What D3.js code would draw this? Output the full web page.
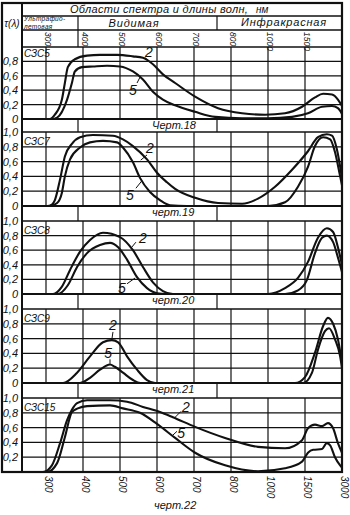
<!DOCTYPE html>
<html><head><meta charset="utf-8">
<script src="https://cdn.jsdelivr.net/npm/d3@7"></script>
<style>
html,body{margin:0;padding:0;background:#fff;}
svg{display:block;}
text{font-family:"Liberation Sans Narrow","Liberation Sans","DejaVu Sans",sans-serif;font-style:italic;fill:#111;}
</style></head><body>
<svg id="chart" width="350" height="515"></svg>
<script>
// Wavelength gridlines (nm); they are equally spaced along the axis
const wavelengths = [300, 400, 500, 600, 700, 800, 1000, 1500, 3000];
const headerTicks = [300, 400, 500, 600, 700, 800, 1000, 1500];
const gridValues = [0.2, 0.4, 0.6, 0.8];
const filters = ["СЗС5", "СЗС7", "СЗС8", "СЗС9", "СЗС15"];
const figures = ["Черт.18", "черт.19", "черт.20", "черт.21", "черт.22"];
const tickLabels = [
  [0.8, 0.6, 0.4, 0.2, 0],
  [1.0, 0.8, 0.6, 0.4, 0.2, 0],
  [1.0, 0.8, 0.6, 0.4, 0.2, 0],
  [1.0, 0.8, 0.6, 0.4, 0.2, 0],
  [1.0, 0.8, 0.6, 0.4, 0.2]
];

// Spectral transmission τ(λ): [wavelength nm, τ]; curve "2" and curve "5"
const szs5_2 = [[235,0],[310,0],[324,0.06],[343,0.27],[351,0.5],[359,0.72],[378,0.83],[411,0.88],[446,0.89],[492,0.89],[535,0.87],[562,0.85],[589,0.76],[616,0.62],[649,0.5],[703,0.31],[765,0.15],[860,0.08],[984,0.06],[1230,0.08],[1460,0.17],[1905,0.3],[2235,0.35],[2595,0.34],[2835,0.27],[3000,0.18]];
const szs5_5 = [[235,0],[316,0],[330,0.02],[357,0.27],[370,0.5],[378,0.66],[397,0.72],[427,0.73],[465,0.74],[500,0.73],[535,0.66],[562,0.55],[589,0.38],[616,0.27],[649,0.19],[703,0.1],[757,0.03],[860,0.01],[1000,0.01],[1325,0.03],[1620,0.08],[2190,0.17],[2595,0.18],[2835,0.15],[3000,0.07]];
const szs7_2 = [[235,0],[303,0],[316,0.02],[324,0.08],[338,0.36],[351,0.67],[370,0.84],[392,0.93],[427,0.96],[481,0.95],[508,0.9],[535,0.81],[573,0.63],[600,0.45],[627,0.32],[649,0.23],[703,0.11],[765,0.04],[860,0.03],[946,0.1],[1095,0.26],[1325,0.49],[1620,0.74],[2025,0.93],[2385,0.97],[2595,0.95],[2790,0.77],[3000,0.38]];
const szs7_5 = [[235,0],[311,0],[330,0.04],[343,0.18],[351,0.4],[365,0.63],[392,0.79],[419,0.86],[454,0.88],[492,0.86],[508,0.79],[535,0.59],[554,0.38],[581,0.19],[608,0.08],[635,0.01],[680,0],[1000,0],[1230,0.05],[1405,0.26],[1620,0.53],[1905,0.81],[2235,0.93],[2520,0.9],[2715,0.73],[2925,0.4],[3000,0.28]];
const szs8_2 = [[235,0],[319,0],[343,0.1],[365,0.33],[392,0.58],[419,0.74],[454,0.84],[500,0.78],[535,0.6],[562,0.37],[589,0.16],[616,0.04],[643,0],[1000,0],[1230,0.08],[1405,0.22],[1620,0.44],[2025,0.77],[2385,0.9],[2640,0.85],[2835,0.64],[3000,0.4]];
const szs8_5 = [[235,0],[332,0],[359,0.12],[384,0.37],[411,0.56],[446,0.67],[473,0.7],[495,0.64],[519,0.47],[546,0.23],[573,0.08],[600,0.01],[625,0],[1230,0],[1405,0.05],[1575,0.19],[1905,0.56],[2190,0.77],[2385,0.8],[2640,0.71],[2835,0.5],[3000,0.3]];
const szs9_2 = [[235,0],[346,0],[384,0.14],[419,0.36],[454,0.55],[478,0.58],[495,0.55],[519,0.36],[546,0.18],[573,0.04],[595,0],[1365,0],[1500,0.08],[1905,0.41],[2235,0.77],[2430,0.88],[2640,0.8],[2835,0.59],[3000,0.27]];
const szs9_5 = [[235,0],[392,0],[419,0.07],[446,0.18],[473,0.25],[486,0.22],[508,0.14],[535,0.04],[555,0],[1475,0],[1785,0.14],[2025,0.45],[2310,0.7],[2475,0.74],[2715,0.59],[2925,0.36],[3000,0.2]];
const szs15_2 = [[235,0],[292,0],[316,0.09],[338,0.39],[357,0.7],[370,0.84],[384,0.93],[411,0.97],[473,0.97],[519,0.95],[562,0.88],[608,0.81],[643,0.74],[703,0.61],[784,0.46],[946,0.34],[1230,0.32],[1460,0.43],[1620,0.59],[1905,0.64],[2190,0.62],[2430,0.66],[2640,0.59],[2835,0.39],[3000,0.26]];
const szs15_5 = [[235,0],[303,0],[330,0.12],[351,0.47],[370,0.81],[386,0.86],[411,0.89],[473,0.9],[508,0.86],[554,0.8],[600,0.65],[649,0.46],[703,0.26],[784,0.09],[946,0.01],[1230,0.05],[1460,0.14],[1620,0.26],[1830,0.3],[2190,0.31],[2385,0.39],[2520,0.36],[2715,0.2],[2925,0.09],[3000,0.06]];
const curves2 = [szs5_2, szs7_2, szs8_2, szs9_2, szs15_2];
const curves5 = [szs5_5, szs7_5, szs8_5, szs9_5, szs15_5];

// Curve numbers: text centre [nm, τ] and a leader [from nm, τ] -> [to nm, τ]
const labels2 = [
  {at:[578,0.93], from:[568,0.85], to:[581,0.79]},
  {at:[581,0.78], from:[573,0.69], to:[556,0.62]},
  {at:[562,0.77], from:[543,0.71], to:[530,0.63]},
  {at:[481,0.79], from:[481,0.69], to:[478,0.59]},
  {at:[678,0.88], from:[665,0.82], to:[649,0.74]}
];
const labels5 = [
  {at:[535,0.40], from:[546,0.50], to:[556,0.60]},
  {at:[527,0.15], from:[543,0.24], to:[559,0.34]},
  {at:[505,0.08], from:[519,0.14], to:[541,0.22]},
  {at:[468,0.40], from:[473,0.32], to:[473,0.26]},
  {at:[665,0.53], from:[654,0.55], to:[641,0.49]}
];

const svg = d3.select("#chart");
const INK = "#111";

// x: each wavelength gridline one equal step apart
const X300 = 46, STEP = 37;
const x = d3.scaleLinear().domain(wavelengths).range(wavelengths.map((d, i) => X300 + i * STEP));
const FRAME_L = 2, LEFT = 22, RIGHT = x(3000), TOP = 3;
const panelTop = [47, 132, 221, 309, 398];
const panelBase = [119, 206, 294, 383, 472];
const divA = 78, divB = 217;   // cell dividers in the header and caption strips

const fmt = v => v === 0 ? "0" : d3.format(".1f")(v).replace(".", ",");

function hline(y, x1, x2, w) {
  svg.append("line").attr("x1", x1).attr("x2", x2).attr("y1", y).attr("y2", y)
    .attr("stroke", INK).attr("stroke-width", w);
}
function vline(xp, y1, y2, w) {
  svg.append("line").attr("x1", xp).attr("x2", xp).attr("y1", y1).attr("y2", y2)
    .attr("stroke", INK).attr("stroke-width", w);
}

// ---- header table ----
hline(16, LEFT, RIGHT, 1.3);
hline(30, LEFT, RIGHT, 1.3);
hline(panelTop[0], LEFT, RIGHT, 1.6);
vline(divA, 16, panelTop[0], 1.2);
vline(divB, 16, 30, 1.2);

svg.append("text").attr("x", 70).attr("y", 13).attr("font-size", 11)
  .attr("letter-spacing", 0.3).text("Области спектра и длины волн,");
svg.append("text").attr("x", 256).attr("y", 13).attr("font-size", 10).text("нм");
svg.append("text").attr("x", 12).attr("y", 27).attr("text-anchor", "middle").attr("font-size", 10).text("τ(λ)");
svg.append("text").attr("x", 24).attr("y", 21.4).attr("font-size", 6.5).attr("letter-spacing", 0.3).text("Ультрафио-");
svg.append("text").attr("x", 24).attr("y", 29.2).attr("font-size", 6.5).attr("letter-spacing", 0.3).text("летовая");
svg.append("text").attr("x", 134).attr("y", 27).attr("text-anchor", "middle").attr("font-size", 11)
  .attr("letter-spacing", 0.8).text("Видимая");
svg.append("text").attr("x", 284).attr("y", 26).attr("text-anchor", "middle").attr("font-size", 11)
  .attr("letter-spacing", 0.8).text("Инфракрасная");

svg.append("g").selectAll("text").data(headerTicks).join("text")
  .attr("transform", d => `translate(${x(d) + 2},32) rotate(90)`)
  .attr("dy", "0.35em").attr("font-size", 8.5).text(d => d);

// ---- panels ----
const line = d3.line().curve(d3.curveMonotoneX);

filters.forEach((name, i) => {
  const y = d3.scaleLinear().domain([0, 1]).range([panelBase[i], panelTop[i]]);
  const g = svg.append("g");

  // grid
  g.selectAll(".gh").data(gridValues).join("line")
    .attr("x1", LEFT).attr("x2", RIGHT).attr("y1", d => y(d)).attr("y2", d => y(d))
    .attr("stroke", INK).attr("stroke-width", 1.2);
  g.selectAll(".gv").data(wavelengths.slice(0, -1)).join("line")
    .attr("x1", d => x(d)).attr("x2", d => x(d)).attr("y1", y(1)).attr("y2", y(0))
    .attr("stroke", INK).attr("stroke-width", 1.2);
  if (i > 0) hline(y(1), LEFT, RIGHT, 1.5);
  hline(y(0), LEFT, RIGHT, 2);

  // value labels
  g.selectAll(".yl").data(tickLabels[i]).join("text")
    .attr("x", 18).attr("y", d => y(d)).attr("dy", "0.36em").attr("text-anchor", "end")
    .attr("font-size", 11).text(fmt);

  // filter name
  g.append("text").attr("x", 24).attr("y", panelTop[i] + (i === 0 ? 10 : 12.5))
    .attr("font-size", 10).text(name);

  // curves
  [curves2[i], curves5[i]].forEach(c => {
    g.append("path").attr("d", line(c.map(p => [x(p[0]), y(p[1])])))
      .attr("fill", "none").attr("stroke", INK).attr("stroke-width", 2.1)
      .attr("stroke-linejoin", "round");
  });

  // curve numbers with leaders
  [[labels2[i], "2"], [labels5[i], "5"]].forEach(([a, t]) => {
    g.append("line").attr("x1", x(a.from[0])).attr("y1", y(a.from[1]))
      .attr("x2", x(a.to[0])).attr("y2", y(a.to[1]))
      .attr("stroke", INK).attr("stroke-width", 1);
    g.append("text").attr("x", x(a.at[0])).attr("y", y(a.at[1])).attr("dy", "0.36em")
      .attr("text-anchor", "middle").attr("font-size", 14).text(t);
  });

  // caption strip below the panel
  if (i < filters.length - 1) {
    vline(divA, panelBase[i], panelTop[i + 1], 1.2);
    vline(divB, panelBase[i], panelTop[i + 1], 1.2);
    svg.append("text").attr("x", 152).attr("y", panelBase[i] + 9.5).attr("font-size", 11).text(figures[i]);
  }
});

// bottom wavelength labels and last caption
svg.append("g").selectAll("text").data(wavelengths).join("text")
  .attr("transform", d => `translate(${x(d) + 2},476) rotate(90)`)
  .attr("dy", "0.35em").attr("font-size", 10).text(d => d);
svg.append("text").attr("x", 154).attr("y", 509).attr("font-size", 11).text(figures[4]);

// outer frame and label column
vline(LEFT, TOP, panelBase[4], 2);
svg.append("rect").attr("x", FRAME_L).attr("y", TOP).attr("width", RIGHT - FRAME_L)
  .attr("height", panelBase[4] - TOP).attr("fill", "none").attr("stroke", INK).attr("stroke-width", 2.2);
</script>
</body></html>
